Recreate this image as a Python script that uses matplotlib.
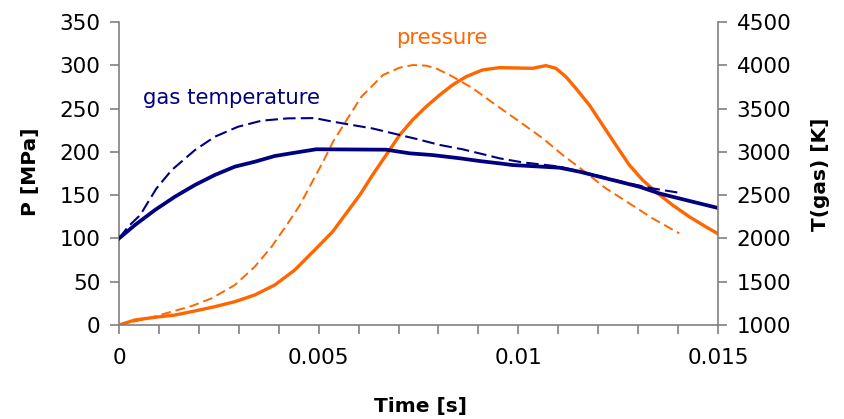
import matplotlib
matplotlib.use("Agg")
import matplotlib.pyplot as plt
from matplotlib.ticker import FixedLocator, FuncFormatter

plt.rcParams['font.family'] = ['DejaVu Sans']

# Solid gas temperature [K]
t_temp_solid = [0, 0.0004, 0.0009, 0.0014, 0.0019, 0.0024, 0.0029, 0.0034, 0.0039, 0.0044,
                0.00494, 0.00669, 0.00728, 0.00785, 0.00853, 0.00903, 0.00953, 0.00985,
                0.01103, 0.01153, 0.01203, 0.01253, 0.01303, 0.01353, 0.01403, 0.01453, 0.01498]
T_solid = [2000, 2155, 2328, 2482, 2617, 2733, 2829, 2886, 2952, 2990,
           3030, 3025, 2983, 2963, 2926, 2894, 2867, 2848,
           2817, 2771, 2713, 2655, 2597, 2520, 2462, 2405, 2354]

# Dashed gas temperature [K]
t_temp_dash = [0, 0.00023, 0.00053, 0.00094, 0.00132, 0.0019, 0.0024, 0.00298, 0.00357,
               0.00423, 0.0049, 0.00535, 0.00635, 0.00703, 0.00745, 0.00803, 0.0086,
               0.0092, 0.00953, 0.0101, 0.01103, 0.01203, 0.01278, 0.01335, 0.01395, 0.0141]
T_dash = [2000, 2136, 2270, 2579, 2790, 3020, 3175, 3290, 3360,
          3387, 3390, 3349, 3270, 3195, 3149, 3080, 3030,
          2963, 2925, 2879, 2830, 2720, 2635, 2579, 2533, 2525]

# Solid pressure [MPa]
t_p_solid = [0, 0.0004, 0.0009, 0.0014, 0.0019, 0.0024, 0.0029, 0.0034, 0.0039, 0.0044,
             0.0049, 0.00535, 0.00569, 0.00603, 0.00635, 0.00669, 0.00703, 0.00735,
             0.00769, 0.00803, 0.00835, 0.00869, 0.0091, 0.00953, 0.01035, 0.01069,
             0.01094, 0.01119, 0.01144, 0.01178, 0.01211, 0.01244, 0.01278, 0.01311,
             0.01344, 0.01386, 0.01428, 0.01469, 0.01498]
P_solid = [0, 5.8, 8.9, 11.5, 16.2, 21.2, 26.9, 34.7, 46.2, 63.5,
           86.6, 107.8, 129, 150.2, 173.3, 196.4, 219.5, 236.8,
           252.2, 265.7, 277.2, 286.8, 294.6, 297.3, 296.5, 299.6,
           296.5, 286.8, 273.4, 254, 231, 208, 184.8, 167.5,
           154, 138.6, 125.1, 113.6, 105.9]

# Dashed pressure [MPa]
t_p_dash = [0, 0.00073, 0.00132, 0.00182, 0.00232, 0.0029, 0.0034, 0.00382, 0.00423,
            0.00453, 0.00482, 0.00511, 0.00536, 0.00578, 0.00607, 0.00632, 0.00661,
            0.00703, 0.00736, 0.00769, 0.00794, 0.00836, 0.00886, 0.00944, 0.01003,
            0.01061, 0.01111, 0.01161, 0.01219, 0.01278, 0.01336, 0.01403]
P_dash = [0, 7.7, 15.4, 21.9, 30.8, 46.2, 67.3, 90.4, 117.5,
          138.6, 163.7, 188.6, 211.7, 242.6, 263.7, 275.2, 288.8,
          297.3, 300.3, 299.6, 296.5, 286.8, 273.4, 254, 234.9,
          215.7, 196.4, 179, 157.9, 140.5, 123.2, 105.9]

x_labels = {0: "0", 0.005: "0.005", 0.01: "0.01", 0.015: "0.015"}

NAVY = "#000080"
ORANGE = "#FF6600"
GRAY = "#808080"
W, H = 844, 419

fig = plt.figure(figsize=(W / 100, H / 100), dpi=100)
ax = fig.add_axes([119 / W, 1 - 325 / H, 599 / W, 303 / H])
ax2 = ax.twinx()

ax.plot(t_p_dash, P_dash, color=ORANGE, lw=1.4, dashes=(5, 2.5))
ax.plot(t_p_solid, P_solid, color=ORANGE, lw=2.4, solid_joinstyle='round')
ax2.plot(t_temp_dash, T_dash, color=NAVY, lw=1.5, dashes=(6, 2.5))
ax2.plot(t_temp_solid, T_solid, color=NAVY, lw=2.7, solid_joinstyle='round')

ax.set_xlim(0, 0.015)
ax.set_ylim(0, 350)
ax2.set_ylim(1000, 4500)

ax.set_yticks(range(0, 351, 50))
ax2.set_yticks(range(1000, 4501, 500))
ax.xaxis.set_major_locator(FixedLocator([0, 0.005, 0.01, 0.015]))
ax.xaxis.set_minor_locator(FixedLocator([i * 0.001 for i in range(16)]))
ax.xaxis.set_major_formatter(FuncFormatter(lambda v, p: x_labels.get(round(v, 4), "")))

for a in (ax, ax2):
    a.spines['top'].set_visible(False)
    for s in a.spines.values():
        s.set_color(GRAY)
        s.set_linewidth(1.2)
    a.tick_params(axis='both', which='both', direction='out', color=GRAY, width=1.2,
                  length=6.5, labelsize=15.5, pad=7)
ax.tick_params(axis='x', which='major', pad=10)
ax.spines['right'].set_visible(False)
ax2.spines['left'].set_visible(False)
ax2.spines['bottom'].set_visible(False)

fig.text(31 / W, 1 - 172 / H, "P [MPa]", rotation=90, fontsize=14.5, fontweight='bold',
         ha='center', va='center')
fig.text(820 / W, 1 - 174 / H, "T(gas) [K]", rotation=90, fontsize=14.5, fontweight='bold',
         ha='center', va='center')
fig.text(421 / W, 1 - 406 / H, "Time [s]", fontsize=14.5, fontweight='bold',
         ha='center', va='center')

fig.text(143 / W, 1 - 104 / H, "gas temperature", color=NAVY, fontsize=15.3,
         ha='left', va='baseline')
fig.text(396 / W, 1 - 44 / H, "pressure", color=ORANGE, fontsize=15.3,
         ha='left', va='baseline')

fig.savefig("out.png", dpi=100)
